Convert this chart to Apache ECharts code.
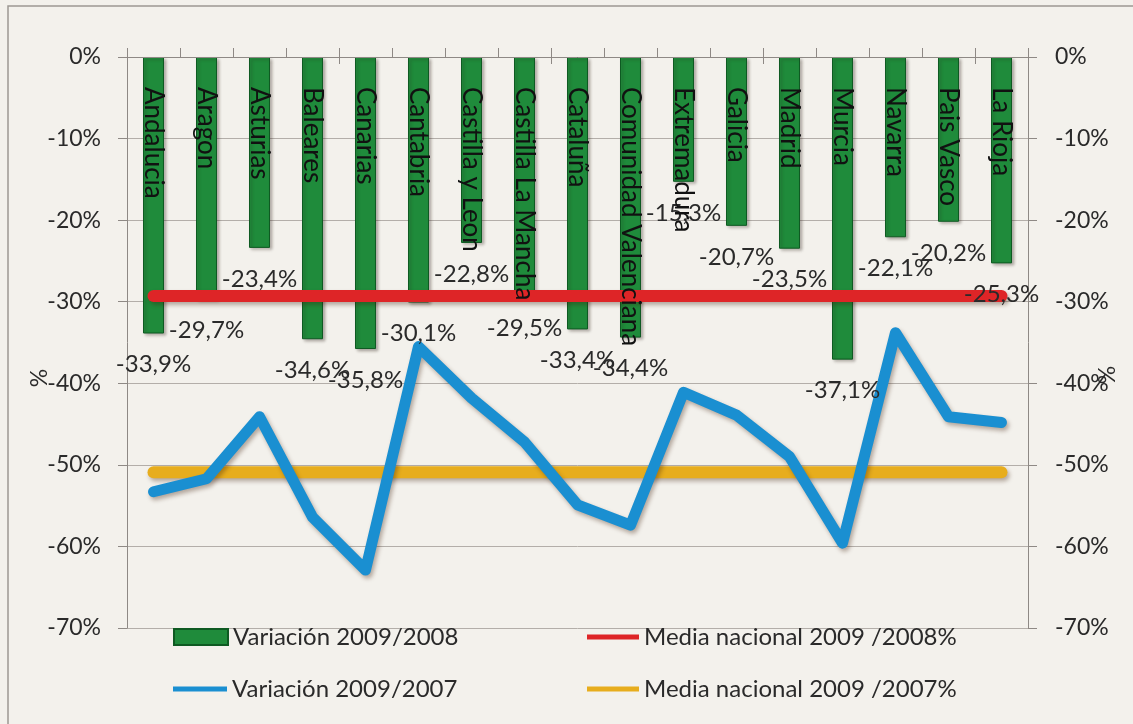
<!DOCTYPE html>
<html>
<head>
<meta charset="utf-8">
<title>Variación 2009</title>
<script src="https://cdn.jsdelivr.net/npm/echarts@6/dist/echarts.min.js"></script>
<style>
    html, body { margin: 0; padding: 0; background: #f3f1ec; }
    #chart { width: 1133px; height: 724px; }
</style>
</head>
<body>
<div id="chart"></div>
<script>
// categories (comunidades)
var comunidades = ['Andalucia', 'Aragon', 'Asturias', 'Baleares', 'Canarias', 'Cantabria',
    'Castilla y Leon', 'Castilla La Mancha', 'Cataluña', 'Comunidad Valenciana', 'Extremadura',
    'Galicia', 'Madrid', 'Murcia', 'Navarra', 'Pais Vasco', 'La Rioja'];

// Variación 2009/2008 (bars)
var variacion0908 = [-33.9, -29.7, -23.4, -34.6, -35.8, -30.1, -22.8, -29.5, -33.4, -34.4, -15.3,
    -20.7, -23.5, -37.1, -22.1, -20.2, -25.3];

// Variación 2009/2007 (blue line)
var variacion0907 = [-53.3, -51.7, -44.1, -56.4, -62.9, -35.5, -41.8, -47.2, -54.9, -57.4, -41.1,
    -43.9, -49.0, -59.6, -33.8, -44.1, -44.8];

// medias nacionales
var media0908 = [-29.3, -29.3, -29.3, -29.3, -29.3, -29.3, -29.3, -29.3, -29.3, -29.3, -29.3,
    -29.3, -29.3, -29.3, -29.3, -29.3, -29.3];
var media0907 = [-50.9, -50.9, -50.9, -50.9, -50.9, -50.9, -50.9, -50.9, -50.9, -50.9, -50.9,
    -50.9, -50.9, -50.9, -50.9, -50.9, -50.9];

// y axis ticks
var yMin = -70, yMax = 0, yStep = 10;

var FONT = 'Lato';
var TEXT = '#2a2a2a';
var AXIS = '#8e8985';
var GRID = '#b3aea9';

var chart = echarts.init(document.getElementById('chart'));

function pct(v) {
    return v.toFixed(1).replace('.', ',') + '%';
}

function yAxisOpt(pos) {
    return {
        type: 'value',
        position: pos,
        min: yMin,
        max: yMax,
        interval: yStep,
        axisLine: {show: true, lineStyle: {color: AXIS, width: 1}},
        axisTick: {show: true, length: 9, lineStyle: {color: AXIS}},
        axisLabel: {
            formatter: '{value}%', fontFamily: FONT, fontSize: 23, color: TEXT,
            margin: pos === 'left' ? 26 : 27
        },
        splitLine: {show: pos === 'left', lineStyle: {color: GRID, width: 1}}
    };
}

function lineShadow(o) {
    o.shadowColor = 'rgba(60,30,10,0.35)';
    o.shadowBlur = 4;
    o.shadowOffsetX = 2;
    o.shadowOffsetY = 3;
    o.cap = 'round';
    o.join = 'round';
    return o;
}

var option = {
    backgroundColor: '#f3f1ec',
    animation: false,
    grid: {left: 127, right: 105, top: 57, bottom: 96, containLabel: false},
    xAxis: [{
        type: 'category',
        position: 'top',
        data: comunidades,
        z: 10,
        axisLine: {show: true, lineStyle: {color: AXIS}},
        axisTick: {show: true, length: 9, alignWithLabel: false, lineStyle: {color: AXIS}},
        axisLabel: {
            inside: true, rotate: -90, interval: 0, margin: 30,
            fontFamily: FONT, fontSize: 26, color: '#111'
        },
        splitLine: {show: false}
    }, {
        type: 'category',
        position: 'top',
        data: comunidades,
        axisLine: {show: false},
        axisTick: {show: true, inside: true, length: 7, lineStyle: {color: AXIS}},
        axisLabel: {show: false}
    }],
    yAxis: [yAxisOpt('left'), yAxisOpt('right')],
    legend: [
        {left: 173, top: 625, itemWidth: 54, itemHeight: 16, padding: 0,
            data: [{name: 'Variación 2009/2008', icon: 'rect'}],
            textStyle: {fontFamily: FONT, fontSize: 24, color: TEXT}},
        {left: 173, top: 677, itemWidth: 54, itemHeight: 5, padding: 0,
            data: [{name: 'Variación 2009/2007', icon: 'rect'}],
            textStyle: {fontFamily: FONT, fontSize: 24, color: TEXT}},
        {left: 587, top: 625, itemWidth: 52, itemHeight: 5, padding: 0,
            data: [{name: 'Media nacional 2009 /2008%', icon: 'rect'}],
            textStyle: {fontFamily: FONT, fontSize: 24, color: TEXT}},
        {left: 587, top: 677, itemWidth: 52, itemHeight: 5, padding: 0,
            data: [{name: 'Media nacional 2009 /2007%', icon: 'rect'}],
            textStyle: {fontFamily: FONT, fontSize: 24, color: TEXT}}
    ],
    graphic: [
        {type: 'rect', silent: true, z: -1,
            shape: {x: 8, y: 6, width: 1300, height: 900},
            style: {fill: 'none', stroke: '#9d9893', lineWidth: 1.5}},
        {type: 'text', x: 40, y: 378, rotation: Math.PI / 2, z: 20,
            style: {text: '%', fontFamily: FONT, fontSize: 23, fill: TEXT, align: 'center', verticalAlign: 'middle'}},
        {type: 'text', x: 1108, y: 375, rotation: Math.PI / 2, z: 20,
            style: {text: '%', fontFamily: FONT, fontSize: 23, fill: TEXT, align: 'center', verticalAlign: 'middle'}}
    ],
    series: [
        {
            name: 'Variación 2009/2008',
            type: 'bar',
            data: variacion0908,
            barWidth: 21,
            barGap: '-100%',
            z: 2,
            itemStyle: {
                color: '#1f8b3b', borderColor: '#0e5a22', borderWidth: 1,
                shadowColor: 'rgba(40,30,20,0.35)', shadowBlur: 3, shadowOffsetX: 2, shadowOffsetY: 2
            }
        },
        {
            name: 'Media nacional 2009 /2008%',
            type: 'line',
            data: media0908,
            yAxisIndex: 0,
            symbol: 'none',
            z: 3,
            itemStyle: {color: '#de2527'},
            lineStyle: lineShadow({color: '#de2527', width: 12})
        },
        {
            name: 'Media nacional 2009 /2007%',
            type: 'line',
            data: media0907,
            symbol: 'none',
            z: 3,
            itemStyle: {color: '#e7ad1d'},
            lineStyle: lineShadow({color: '#e7ad1d', width: 12})
        },
        {
            name: 'Variación 2009/2007',
            type: 'line',
            data: variacion0907,
            symbol: 'none',
            z: 4,
            itemStyle: {color: '#1a8fd1'},
            lineStyle: lineShadow({color: '#1a8fd1', width: 11})
        },
        {
            // value labels drawn above everything
            name: 'etiquetas',
            type: 'bar',
            data: variacion0908,
            barWidth: 21,
            barGap: '-100%',
            z: 8,
            silent: true,
            itemStyle: {color: 'rgba(0,0,0,0)'},
            label: {
                show: true, position: 'bottom', distance: 19,
                fontFamily: FONT, fontSize: 24, color: TEXT,
                formatter: function (p) { return pct(p.value); }
            }
        }
    ]
};

chart.setOption(option);
</script>
</body>
</html>
